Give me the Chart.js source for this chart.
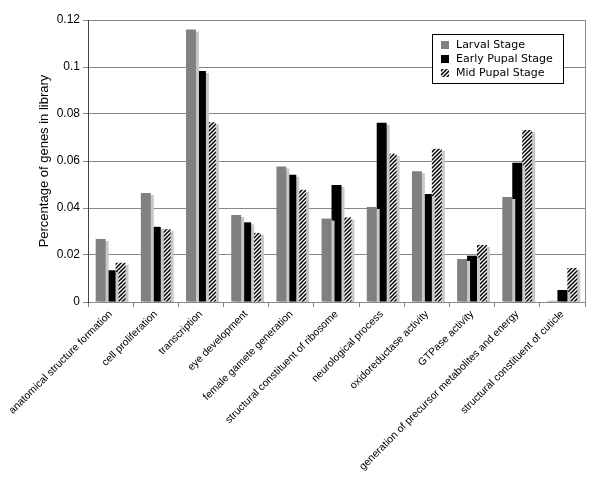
<!DOCTYPE html>
<html>
<head>
<meta charset="utf-8">
<script src="https://cdn.jsdelivr.net/npm/chart.js@4.4.1/dist/chart.umd.min.js"></script>
<style>
  html, body { margin: 0; padding: 0; background: #fff; }
  #wrap { width: 600px; height: 495px; }
</style>
</head>
<body>
<div id="wrap"><canvas id="chart"></canvas></div>
<script>
const categories = [
  'anatomical structure formation', 'cell proliferation', 'transcription',
  'eye development', 'female gamete generation', 'structural constituent of ribosome',
  'neurological process', 'oxidoreductase activity', 'GTPase activity',
  'generation of precursor metabolites and energy', 'structural constituent of cuticle'
];
const larval = [0.0268, 0.0464, 0.116, 0.037, 0.0577, 0.0355, 0.0404, 0.0556, 0.0183, 0.0447, 0.0005];
const earlyPupal = [0.0135, 0.032, 0.0983, 0.0339, 0.0542, 0.0498, 0.0763, 0.046, 0.0197, 0.0593, 0.0051];
const midPupal = [0.0167, 0.031, 0.0765, 0.0294, 0.0478, 0.036, 0.0631, 0.0652, 0.0243, 0.0732, 0.0145];

const FONT = '"Liberation Sans", Arial, sans-serif';

// diagonal hatch for the mid pupal series
function makeHatch() {
  const c = document.createElement('canvas');
  c.width = 4; c.height = 4;
  const g = c.getContext('2d');
  g.fillStyle = '#fff';
  g.fillRect(0, 0, 4, 4);
  g.strokeStyle = '#000';
  g.lineWidth = 1.5;
  g.beginPath();
  g.moveTo(-1, 5); g.lineTo(5, -1);
  g.moveTo(-1, 1); g.lineTo(1, -1);
  g.moveTo(3, 5); g.lineTo(5, 3);
  g.stroke();
  return g.createPattern(c, 'repeat');
}
const hatch = makeHatch();

const shadowPlugin = {
  id: 'shadow',
  beforeDatasetsDraw(chart) {
    const ctx = chart.ctx;
    ctx.save();
    ctx.shadowColor = 'rgba(200,200,200,1)';
    ctx.shadowOffsetX = 3;
    ctx.shadowOffsetY = 2;
    ctx.shadowBlur = 0;
  },
  afterDatasetsDraw(chart) {
    chart.ctx.restore();
  }
};

const framePlugin = {
  id: 'frame',
  afterDraw(chart) {
    const ctx = chart.ctx, a = chart.chartArea;
    ctx.save();
    // right border
    ctx.strokeStyle = '#888';
    ctx.lineWidth = 1;
    ctx.beginPath();
    ctx.moveTo(Math.round(a.right) + 0.5, a.top);
    ctx.lineTo(Math.round(a.right) + 0.5, a.bottom);
    ctx.stroke();

    // legend box
    const x = 432, y = 34, w = 131, h = 49;
    ctx.fillStyle = '#fff';
    ctx.fillRect(x, y, w, h);
    ctx.strokeStyle = '#000';
    ctx.strokeRect(x + 0.5, y + 0.5, w, h);
    ctx.font = '11px "DejaVu Sans", Verdana, sans-serif';
    ctx.textBaseline = 'middle';
    chart.data.datasets.forEach((ds, i) => {
      const ty = y + 11 + i * 14;
      ctx.fillStyle = ds.backgroundColor;
      ctx.fillRect(x + 9, ty - 4, 8, 8);
      ctx.fillStyle = '#000';
      ctx.fillText(ds.label, x + 24, ty);
    });
    ctx.restore();
  }
};

new Chart(document.getElementById('chart'), {
  type: 'bar',
  data: {
    labels: categories,
    datasets: [
      { label: 'Larval Stage', data: larval, backgroundColor: '#808080' },
      { label: 'Early Pupal Stage', data: earlyPupal, backgroundColor: '#000000' },
      { label: 'Mid Pupal Stage', data: midPupal, backgroundColor: hatch }
    ]
  },
  options: {
    responsive: true,
    maintainAspectRatio: false,
    animation: false,
    datasets: {
      bar: { categoryPercentage: 0.66, barPercentage: 1.0 }
    },
    layout: { padding: { top: 20, right: 15, bottom: 0, left: 0 } },
    scales: {
      x: {
        afterFit: s => { s.height = 193; },
        grid: { display: true, drawOnChartArea: false, drawTicks: true, tickLength: 5, color: '#888', offset: true },
        border: { display: true, color: '#888' },
        ticks: {
          color: '#000',
          font: { family: FONT, size: 10.5 },
          minRotation: 45,
          maxRotation: 45,
          autoSkip: false,
          padding: 1
        }
      },
      y: {
        min: 0,
        max: 0.12,
        afterFit: s => { s.width = 88; },
        grid: { color: '#888', tickLength: 5 },
        border: { display: true, color: '#444' },
        ticks: {
          stepSize: 0.02,
          color: '#000',
          font: { family: FONT, size: 12 },
          callback: v => +v.toFixed(2)
        },
        title: {
          display: true,
          text: 'Percentage of genes in library',
          color: '#000',
          font: { family: FONT, size: 13 },
          padding: { top: 37, bottom: 4 }
        }
      }
    },
    plugins: {
      legend: { display: false },
      tooltip: { enabled: false }
    }
  },
  plugins: [shadowPlugin, framePlugin]
});
</script>
</body>
</html>
